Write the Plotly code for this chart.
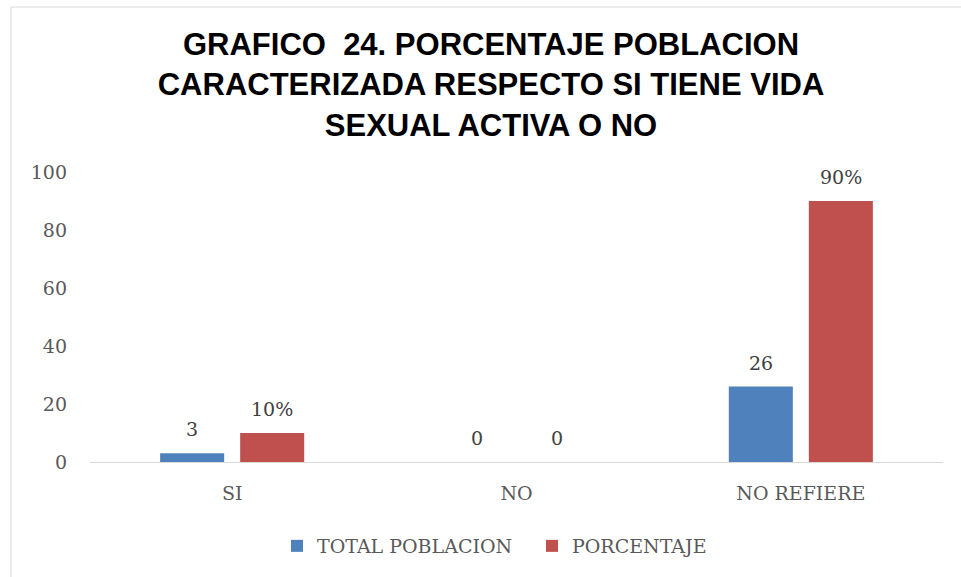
import plotly.graph_objects as go

categories = ["SI", "NO", "NO REFIERE"]
total_poblacion = [3, 0, 26]
porcentaje = [10, 0, 90]
porcentaje_labels = ["10%", "0", "90%"]
total_labels = ["3", "0", "26"]
y_ticks = [0, 20, 40, 60, 80, 100]

BLUE = "#4F81BD"
RED = "#C0504D"
SERIF = "DejaVu Serif"

fig = go.Figure()
fig.add_trace(go.Bar(name="TOTAL POBLACION", x=categories, y=total_poblacion,
                     marker=dict(color=BLUE, line=dict(width=0))))
fig.add_trace(go.Bar(name="PORCENTAJE", x=categories, y=porcentaje,
                     marker=dict(color=RED, line=dict(width=0))))

annotations = []
for cat, v, lab in zip(categories, total_poblacion, total_labels):
    annotations.append(dict(x=cat, y=v, xref="x", yref="y", text=lab, showarrow=False,
                            xshift=-40, yshift=11, yanchor="bottom",
                            font=dict(family=SERIF, size=19, color="#404040")))
for cat, v, lab in zip(categories, porcentaje, porcentaje_labels):
    annotations.append(dict(x=cat, y=v, xref="x", yref="y", text=lab, showarrow=False,
                            xshift=40, yshift=11, yanchor="bottom",
                            font=dict(family=SERIF, size=19, color="#404040")))

L, R, T, B = 90, 18, 172, 115
W, H = 961, 577
pw, ph = W - L - R, H - T - B

def px_x(p):
    return (p - L) / pw

def px_y(p):
    return (H - B - p) / ph

fig.update_layout(
    width=W, height=H,
    margin=dict(l=L, r=R, t=T, b=B, pad=0),
    paper_bgcolor="white", plot_bgcolor="white",
    barmode="group", bargap=0.437, bargroupgap=0.2,
    title=dict(text="GRAFICO  24. PORCENTAJE POBLACION<br>CARACTERIZADA RESPECTO SI TIENE VIDA<br>SEXUAL ACTIVA O NO",
               xref="container", yref="container", x=491 / W, y=1 - 55 / H,
               xanchor="center", yanchor="top",
               font=dict(family="Liberation Sans", size=31, color="black", weight="bold")),
    xaxis=dict(showline=True, linecolor="#D9D9D9", linewidth=1, showgrid=False, zeroline=False,
               ticks="", ticklabelstandoff=14,
               tickfont=dict(family=SERIF, size=19, color="#595959")),
    yaxis=dict(range=[0, 100], tickvals=y_ticks, showgrid=False, zeroline=False, showline=False,
               ticks="", ticklabelstandoff=22,
               tickfont=dict(family=SERIF, size=19, color="#595959")),
    legend=dict(orientation="h", xref="container", yref="container", x=532 / W, y=1 - 546 / H,
                xanchor="center", yanchor="middle",
                font=dict(family=SERIF, size=19, color="#595959"), itemwidth=30,
                entrywidth=210, entrywidthmode="pixels",
                traceorder="normal"),
    annotations=annotations,
    shapes=[dict(type="rect", xref="paper", yref="paper",
                 x0=px_x(11), x1=px_x(968), y0=px_y(590), y1=px_y(7),
                 line=dict(color="#D9D9D9", width=1), fillcolor="rgba(0,0,0,0)", layer="below")],
)

fig.write_html("out.html", config={"displayModeBar": False},
               post_script="document.body.style.margin='0';")
